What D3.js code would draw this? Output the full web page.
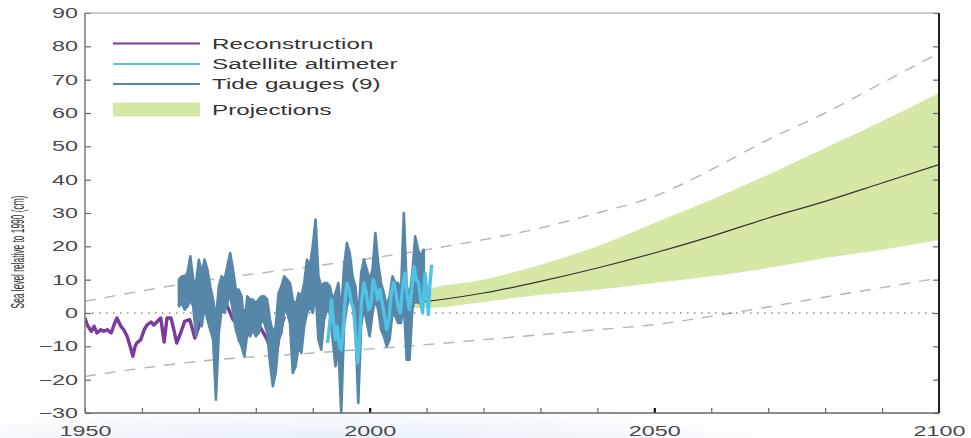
<!DOCTYPE html>
<html>
<head>
<meta charset="utf-8">
<script src="https://cdn.jsdelivr.net/npm/d3@7"></script>
<style>
  html, body { margin: 0; padding: 0; background: #fff; }
  svg { display: block; }
  text { font-family: "Liberation Sans", Arial, sans-serif; }
</style>
</head>
<body>
<svg id="chart" width="971" height="438"></svg>
<script>
// ---------------- DATA ----------------
const yTicks = [-30, -20, -10, 0, 10, 20, 30, 40, 50, 60, 70, 80, 90];
const xTicks = [1950, 1960, 1970, 1980, 1990, 2000, 2010, 2020, 2030, 2040, 2050, 2060, 2070, 2080, 2090, 2100];
const xTickLabels = [1950, 2000, 2050, 2100];
const yAxisTitle = "Sea level relative to 1990 (cm)";

const legendLabels = ["Reconstruction", "Satellite altimeter", "Tide gauges (9)", "Projections"];

// Reconstruction (purple)
const reconYears = [
  1950, 1950.4, 1951.1, 1951.6, 1952.1, 1952.8, 1953.3, 1953.9, 1954.6, 1955.1,
  1955.6, 1956.3, 1956.8, 1957.4, 1958.1, 1958.4, 1958.8, 1959.1, 1959.8, 1960.4,
  1960.9, 1961.6, 1962.1, 1962.6, 1963.3, 1963.9, 1964.4, 1965.1, 1965.6, 1966.1,
  1966.8, 1967.5, 1968.4, 1969.3, 1970, 1970.8, 1971.5, 1972.2, 1972.9, 1973.5,
  1974.1, 1975, 1976, 1976.7, 1977.5, 1978.4, 1979.2, 1980, 1981, 1982,
  1982.6, 1983.1, 1983.6, 1984.2, 1985
];
const reconValues = [
  -1.5, -3.6, -5.5, -4, -6, -5, -5.5, -5, -6, -3.6,
  -1.5, -4, -5, -7, -11, -13, -10, -9, -8, -5,
  -3.6, -2.7, -3.6, -2.7, -1.5, -8.7, -1.5, -1.5, -5, -9,
  -6, -2.5, -2, -7.5, -4, 1, 2.5, 1, -8, -2,
  7, 2, -2, -3, 0, 1, -1, -2, -5, -8,
  -11, -14, -12, -6, -1
];

// Tide gauges (9): envelope of the gauge records
const tideYears = [
  1966.5, 1967.0, 1967.5, 1968.0, 1968.5, 1969.0, 1969.5, 1970.0, 1970.5, 1971.0,
  1971.5, 1972.0, 1972.5, 1973.0, 1973.5, 1974.0, 1974.5, 1975.0, 1975.5, 1976.0,
  1976.5, 1977.0, 1977.5, 1978.0, 1978.5, 1979.0, 1979.5, 1980.0, 1980.5, 1981.0,
  1981.5, 1982.0, 1982.5, 1983.0, 1983.5, 1984.0, 1984.5, 1985.0, 1985.5, 1986.0,
  1986.5, 1987.0, 1987.5, 1988.0, 1988.5, 1989.0, 1989.5, 1990.0, 1990.5, 1991.0,
  1991.5, 1992.0, 1992.5, 1993.0, 1993.5, 1994.0, 1994.5, 1995.0, 1995.5, 1996.0,
  1996.5, 1997.0, 1997.5, 1998.0, 1998.5, 1999.0, 1999.5, 2000.0, 2000.5, 2001.0,
  2001.5, 2002.0, 2002.5, 2003.0, 2003.5, 2004.0, 2004.5, 2005.0, 2005.5, 2006.0,
  2006.5, 2007.0, 2007.5, 2008.0, 2008.5, 2009.0, 2009.5
];
const tideHigh = [
  10, 11, 11, 12, 17, 10, 9, 16, 12, 16,
  13, 8, 4, -2, 8, 11, 10, 14, 18, 13,
  7, 7, 5, -4, 5, 4, 4, 3, 4, 5,
  5, 4, -2, -6, -4, 6, 8, 11, 10, 9,
  4, 2, 6, 5, 9, 16, 14, 20, 28, 11,
  8, 9, 9, 8, 4, 6, 9, 0, 14, 21,
  18, 11, 8, -2, 12, 16, 13, 10, 13, 24,
  15, 9, 6, 2, 5, 11, 9, 9, 6, 30,
  8, 5, 12, 23, 19, 17, 19
];
const tideLow = [
  2, 3, 1, 2, 4, 2, -7, 0, -4, 2,
  -2, -5, -8, -26, -6, 1, 0, 3, 6, 0,
  -5, -8, -10, -13, -6, -7, -5, -7, -6, -2,
  -3, -6, -15, -22, -18, -8, -6, 1, 0, -3,
  -18, -16, -10, -12, -4, 0, 2, 0, 6, -8,
  -11, -2, 1, 0, -8, -16, -10, -30, -4, 2,
  5, 3, -5, -27, -4, 2, -3, -7, 0, 4,
  1, -5, -7, -10, -8, 0, -1, -3, -3, 3,
  -14, -14, 1, 5, 3, 3, 4
];

// Satellite altimeter (light blue)
const satYears = [
  1992.6, 1993.0, 1993.3, 1993.6, 1994.0, 1994.3, 1994.7, 1995.0, 1995.3, 1995.7,
  1996.0, 1996.4, 1996.8, 1997.2, 1997.6, 1997.9, 1998.2, 1998.6, 1999.0, 1999.4,
  1999.8, 2000.2, 2000.6, 2001.0, 2001.4, 2001.8, 2002.2, 2002.6, 2003.0, 2003.4,
  2003.8, 2004.2, 2004.6, 2005.0, 2005.4, 2005.8, 2006.2, 2006.6, 2007.0, 2007.4,
  2007.8, 2008.2, 2008.6, 2009.0, 2009.3, 2009.7, 2010.0, 2010.3, 2010.6, 2010.9
];
const satValues = [
  -9, -3, 4, -2, -8, -4, -10, -11, -6, 4,
  9, 7, 3, 1, -8, -15, -9, 4, 9, 6,
  1, 2, 10, 8, 4, 7, 3, -1, -5, -2,
  6, 9, 6, 2, 0, 8, 12, 5, 1, 7,
  14, 10, 9, 3, 0, 12, 7, -0.5, 9, 14.5
];

// Projections (green band + central line)
const projYears  = [2007, 2010, 2020, 2030, 2040, 2050, 2060, 2070, 2080, 2090, 2100];
const projMedian = [3, 3.5, 6, 9.5, 13.5, 18, 23, 28.5, 33.5, 39, 44.5];
const projUpper  = [5, 7, 10, 14.5, 20, 27, 34, 41.5, 49.5, 57.5, 66];
const projLower  = [1.5, 1.5, 3.3, 5.5, 7, 9, 11, 13.5, 16.5, 19, 22];

// Dashed outer bounds
const boundYears   = [1950, 1970, 1990, 2010, 2020, 2030, 2040, 2050, 2060, 2070, 2080, 2090, 2100];
const boundUpper   = [3.5, 9.5, 14, 19, 22, 25.5, 30, 35, 43, 52, 60, 69, 78];
const boundLower   = [-19, -14.5, -12, -9.5, -8, -6.5, -5, -3.5, -1, 1.8, 4.8, 7.6, 10.5];

// ---------------- CHART ----------------
const SX = 1.67; // horizontal stretch of all lettering
const svg = d3.select("#chart");
const L = 85, R = 939, T = 13, B = 413;

const x = d3.scaleLinear().domain([1950, 2100]).range([L, R]);
const y = d3.scaleLinear().domain([-30, 90]).range([B, T]);

const colors = {
  recon: "#7b3b9c",
  sat: "#4fc2e6",
  tide: "#5787a8",
  proj: "#d5e8a6",
  dash: "#b5b5b5",
  median: "#333"
};

// faint bluish glow at the bottom
const defs = svg.append("defs");
const rg = defs.append("radialGradient").attr("id", "glow");
rg.append("stop").attr("offset", "0%").attr("stop-color", "#dce8f5").attr("stop-opacity", 0.9);
rg.append("stop").attr("offset", "100%").attr("stop-color", "#dce8f5").attr("stop-opacity", 0);
svg.append("ellipse").attr("cx", 330).attr("cy", 452).attr("rx", 520).attr("ry", 48).attr("fill", "url(#glow)");

defs.append("clipPath").attr("id", "plotclip")
  .append("rect").attr("x", L).attr("y", T).attr("width", R - L).attr("height", B - T);

svg.append("rect").attr("x", L).attr("y", T).attr("width", R - L).attr("height", B - T).attr("fill", "#fff");

const plot = svg.append("g").attr("clip-path", "url(#plotclip)");

// projections band
const projData = projYears.map((yr, i) => ({ yr, m: projMedian[i], u: projUpper[i], l: projLower[i] }));
plot.append("path").datum(projData)
  .attr("fill", colors.proj)
  .attr("d", d3.area().curve(d3.curveMonotoneX).x(d => x(d.yr)).y0(d => y(d.l)).y1(d => y(d.u)));

// dashed outer bounds
const boundData = boundYears.map((yr, i) => ({ yr, u: boundUpper[i], l: boundLower[i] }));
["u", "l"].forEach(k => {
  plot.append("path").datum(boundData)
    .attr("fill", "none").attr("stroke", colors.dash).attr("stroke-width", 1.4)
    .attr("stroke-dasharray", "11,9")
    .attr("d", d3.line().curve(d3.curveMonotoneX).x(d => x(d.yr)).y(d => y(d[k])));
});

// zero dotted line
plot.append("line").attr("x1", L).attr("x2", R).attr("y1", y(0)).attr("y2", y(0))
  .attr("stroke", "#555").attr("stroke-width", 1.2).attr("stroke-dasharray", "1.5,5.5");

// projection median
plot.append("path").datum(projData)
  .attr("fill", "none").attr("stroke", colors.median).attr("stroke-width", 1.2)
  .attr("d", d3.line().curve(d3.curveMonotoneX).x(d => x(d.yr)).y(d => y(d.m)));

// reconstruction
const reconData = reconYears.map((yr, i) => ({ yr, v: reconValues[i] }));
plot.append("path").datum(reconData)
  .attr("fill", "none").attr("stroke", colors.recon).attr("stroke-width", 3.4)
  .attr("stroke-linejoin", "round")
  .attr("d", d3.line().x(d => x(d.yr)).y(d => y(d.v)));

// tide gauges
const tideData = tideYears.map((yr, i) => ({ yr, h: tideHigh[i], l: tideLow[i] }));
plot.append("path").datum(tideData)
  .attr("fill", colors.tide).attr("stroke", colors.tide).attr("stroke-width", 2.6)
  .attr("stroke-linejoin", "round")
  .attr("d", d3.area().x(d => x(d.yr)).y0(d => y(d.l)).y1(d => y(d.h)));

// satellite altimeter
const satData = satYears.map((yr, i) => ({ yr, v: satValues[i] }));
plot.append("path").datum(satData)
  .attr("fill", "none").attr("stroke", colors.sat).attr("stroke-width", 3.4)
  .attr("stroke-linejoin", "round")
  .attr("d", d3.line().x(d => x(d.yr)).y(d => y(d.v)));

// ---------------- AXES / FRAME ----------------
const gy = svg.append("g").attr("transform", `translate(${L},0)`)
  .call(d3.axisLeft(y).tickValues(yTicks).tickSizeInner(-6).tickSizeOuter(0).tickPadding(7)
    .tickFormat(d => d < 0 ? "\u2212" + Math.abs(d) : d));
gy.select(".domain").remove();
gy.selectAll(".tick line").attr("stroke", "#666").attr("stroke-width", 1.2);
gy.selectAll(".tick text")
  .attr("x", -7 / SX).attr("transform", `scale(${SX},1)`)
  .attr("font-size", 14).attr("fill", "#4a4a4a")
  .attr("font-family", "Liberation Sans, Arial, sans-serif");

const gr = svg.append("g").attr("transform", `translate(${R},0)`)
  .call(d3.axisRight(y).tickValues(yTicks).tickSizeInner(-6).tickSizeOuter(0).tickFormat(""));
gr.select(".domain").remove();
gr.selectAll(".tick line").attr("stroke", "#666").attr("stroke-width", 1.2);

const gx = svg.append("g").attr("transform", `translate(0,${B})`)
  .call(d3.axisBottom(x).tickValues(xTicks).tickSizeInner(-5).tickSizeOuter(0).tickPadding(13)
    .tickFormat(d => xTickLabels.includes(d) ? String(d) : ""));
gx.select(".domain").remove();
gx.selectAll(".tick line").attr("stroke", "#666").attr("stroke-width", 1.2);
gx.selectAll(".tick").filter(d => d === 2000 || d === 2050).select("line")
  .attr("stroke", "#111").attr("stroke-width", 2.2);
gx.selectAll(".tick text")
  .attr("transform", `scale(${SX},1)`)
  .attr("font-size", 14).attr("fill", "#4a4a4a")
  .attr("font-family", "Liberation Sans, Arial, sans-serif");

// frame
svg.append("line").attr("x1", L).attr("x2", R).attr("y1", T).attr("y2", T).attr("stroke", "#999").attr("stroke-width", 1);
svg.append("line").attr("x1", L).attr("x2", L).attr("y1", T).attr("y2", B).attr("stroke", "#777").attr("stroke-width", 1.5);
svg.append("line").attr("x1", L).attr("x2", R).attr("y1", B).attr("y2", B).attr("stroke", "#666").attr("stroke-width", 1.5);
svg.append("line").attr("x1", R).attr("x2", R).attr("y1", T).attr("y2", B).attr("stroke", "#222").attr("stroke-width", 2);

// y axis title
svg.append("text")
  .attr("transform", `translate(19,252) scale(1.6,0.76) rotate(-90)`)
  .attr("text-anchor", "middle").attr("dominant-baseline", "middle")
  .attr("font-size", 11).attr("fill", "#333")
  .text(yAxisTitle);

// ---------------- LEGEND ----------------
const legend = svg.append("g");
const lx0 = 113, lx1 = 200, tx = 212;
const legendRows = [
  { label: legendLabels[0], color: colors.recon, type: "line", cy: 43.5 },
  { label: legendLabels[1], color: colors.sat, type: "line", cy: 64 },
  { label: legendLabels[2], color: colors.tide, type: "line", cy: 84 },
  { label: legendLabels[3], color: colors.proj, type: "rect", cy: 109.5 }
];
legendRows.forEach(r => {
  if (r.type === "line") {
    legend.append("line").attr("x1", lx0).attr("x2", lx1).attr("y1", r.cy).attr("y2", r.cy)
      .attr("stroke", r.color).attr("stroke-width", 2.2);
  } else {
    legend.append("rect").attr("x", lx0).attr("y", r.cy - 7).attr("width", lx1 - lx0).attr("height", 14)
      .attr("fill", r.color);
  }
  legend.append("text")
    .attr("transform", `translate(${tx},${r.cy + 5}) scale(${SX},1)`)
    .attr("font-size", 14.5).attr("fill", "#333")
    .text(r.label);
});
</script>
</body>
</html>
